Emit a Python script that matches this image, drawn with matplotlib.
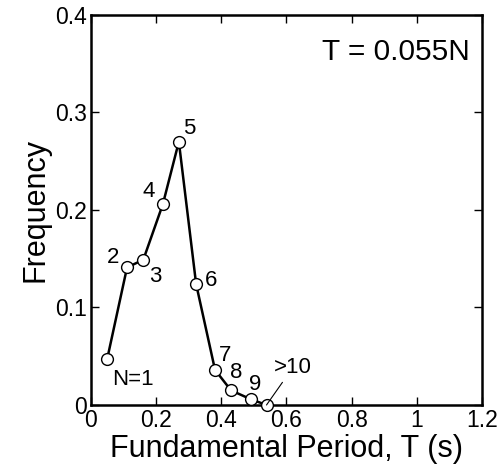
import matplotlib
matplotlib.use("Agg")
import matplotlib.pyplot as plt
from matplotlib.ticker import FuncFormatter

plt.rcParams['font.family'] = ['Liberation Sans', 'DejaVu Sans']

labels = ["N=1", "2", "3", "4", "5", "6", "7", "8", "9", ">10"]
period = [0.050, 0.111, 0.161, 0.221, 0.270, 0.323, 0.381, 0.430, 0.490, 0.539]
freq = [0.047, 0.141, 0.149, 0.206, 0.270, 0.124, 0.036, 0.015, 0.006, 0.0]
label_pos = [(0.129, 0.026), (0.069, 0.151), (0.198, 0.132), (0.178, 0.219),
             (0.301, 0.284), (0.370, 0.128), (0.413, 0.051), (0.447, 0.033),
             (0.505, 0.021), (0.619, 0.038)]
xticks = [0, 0.2, 0.4, 0.6, 0.8, 1.0, 1.2]
yticks = [0, 0.1, 0.2, 0.3, 0.4]

fig = plt.figure(figsize=(5.02, 4.67), dpi=100)
ax = fig.add_axes([0.181, 0.1328, 0.779, 0.8352])
ax.plot(period, freq, color='black', lw=1.8, marker='o', ms=8.5,
        mfc='white', mec='black', mew=1.0, clip_on=False, zorder=3)

for i, (lab, (lx, ly)) in enumerate(zip(labels, label_pos)):
    if lab == ">10":
        ax.annotate(lab, xy=(period[i], freq[i]), xytext=(lx, ly), fontsize=16,
                    ha='center', va='center',
                    arrowprops=dict(arrowstyle='-', lw=0.8, color='black',
                                    shrinkA=1, shrinkB=0))
    else:
        ax.text(lx, ly, lab, fontsize=16, ha='center', va='center')

ax.text(0.969, 0.906, "T = 0.055N", transform=ax.transAxes, fontsize=21.5,
        ha='right', va='center')

ax.set_xlim(0, 1.2)
ax.set_ylim(0, 0.4)
ax.set_xticks(xticks)
ax.set_yticks(yticks)
fmt = FuncFormatter(lambda v, p: ('%g' % round(v, 2)))
ax.xaxis.set_major_formatter(fmt)
ax.yaxis.set_major_formatter(fmt)
ax.tick_params(direction='in', length=6, width=1.0, top=True, right=True,
               labelsize=16.5, pad=3)
for s in ax.spines.values():
    s.set_linewidth(1.8)
ax.set_xlabel("Fundamental Period, T (s)", fontsize=22, labelpad=1)
ax.set_ylabel("Frequency", fontsize=22, labelpad=3)

fig.savefig("out.png", dpi=100)
